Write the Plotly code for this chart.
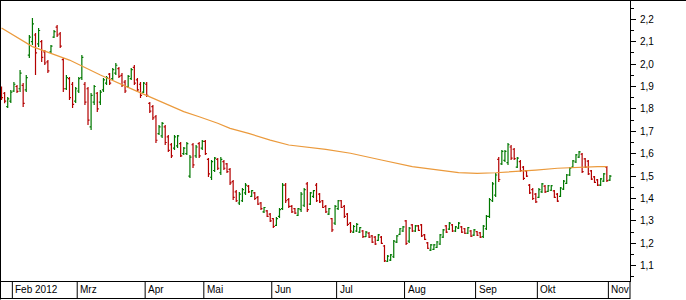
import pandas as pd
import plotly.graph_objects as go

# ---- data -----------------------------------------------------------------
holidays = ["2012-04-06", "2012-04-09", "2012-05-01"]
dates = [d.strftime("%Y-%m-%d") for d in pd.bdate_range("2012-01-26", "2012-11-01")
         if d.strftime("%Y-%m-%d") not in holidays]

open_ = [1.89, 1.87, 1.81, 1.835, 1.88, 1.90, 1.89, 1.905, 1.885, 2.04,
         2.10, 2.13, 2.09, 2.10, 2.055, 2.01, 2.055, 2.12, 2.165, 2.135,
         2.02, 1.89, 1.935, 1.91, 1.835, 1.88, 1.94, 1.91, 1.89, 1.72,
         1.83, 1.87, 1.83, 1.885, 1.915, 1.955, 1.935, 1.96, 1.98, 1.95,
         1.92, 1.90, 1.935, 1.985, 1.93, 1.91, 1.875, 1.91, 1.825, 1.81,
         1.765, 1.69, 1.68, 1.72, 1.675, 1.64, 1.625, 1.635, 1.645, 1.60,
         1.60, 1.50, 1.64, 1.59, 1.645, 1.625, 1.655, 1.575, 1.495, 1.525,
         1.575, 1.515, 1.565, 1.555, 1.53, 1.475, 1.43, 1.38, 1.39, 1.425,
         1.455, 1.41, 1.425, 1.405, 1.38, 1.34, 1.345, 1.33, 1.31, 1.28,
         1.32, 1.355, 1.46, 1.395, 1.365, 1.355, 1.325, 1.35, 1.37, 1.465,
         1.375, 1.41, 1.46, 1.42, 1.39, 1.365, 1.33, 1.31, 1.29, 1.355,
         1.39, 1.365, 1.33, 1.29, 1.25, 1.255, 1.25, 1.255, 1.23, 1.245,
         1.233, 1.228, 1.213, 1.228, 1.188, 1.12, 1.125, 1.14, 1.205, 1.24,
         1.255, 1.30, 1.21, 1.282, 1.255, 1.278, 1.282, 1.238, 1.202, 1.17,
         1.173, 1.182, 1.197, 1.228, 1.278, 1.263, 1.282, 1.255, 1.268, 1.273,
         1.265, 1.245, 1.255, 1.237, 1.252, 1.247, 1.23, 1.265, 1.32, 1.39,
         1.415, 1.575, 1.555, 1.57, 1.56, 1.63, 1.62, 1.54, 1.565, 1.54,
         1.523, 1.46, 1.44, 1.42, 1.405, 1.43, 1.455, 1.432, 1.437, 1.434,
         1.42, 1.41, 1.442, 1.468, 1.505, 1.54, 1.563, 1.585, 1.598, 1.577,
         1.567, 1.523, 1.497, 1.483, 1.46, 1.478, 1.54, 1.482]
high = [1.90, 1.875, 1.853, 1.884, 1.92, 1.907, 1.974, 1.916, 1.951, 2.13,
        2.206, 2.139, 2.161, 2.108, 2.063, 2.018, 2.085, 2.152, 2.175, 2.143,
        2.027, 1.951, 1.942, 1.92, 1.898, 1.942, 2.041, 1.92, 1.898, 1.871,
        1.907, 1.876, 1.884, 1.938, 1.947, 1.96, 1.983, 2.005, 1.987, 1.96,
        1.929, 1.951, 1.983, 1.996, 1.938, 1.92, 1.92, 1.92, 1.831, 1.817,
        1.773, 1.728, 1.742, 1.728, 1.684, 1.648, 1.684, 1.684, 1.652, 1.63,
        1.652, 1.594, 1.648, 1.639, 1.652, 1.661, 1.661, 1.581, 1.572, 1.585,
        1.581, 1.585, 1.572, 1.559, 1.536, 1.483, 1.438, 1.429, 1.447, 1.469,
        1.46, 1.438, 1.429, 1.411, 1.384, 1.362, 1.349, 1.335, 1.313, 1.317,
        1.358, 1.469, 1.469, 1.402, 1.371, 1.358, 1.358, 1.429, 1.447, 1.474,
        1.429, 1.438, 1.469, 1.425, 1.393, 1.371, 1.358, 1.313, 1.371, 1.393,
        1.393, 1.371, 1.335, 1.295, 1.282, 1.291, 1.273, 1.259, 1.255, 1.251,
        1.237, 1.233, 1.242, 1.233, 1.192, 1.148, 1.152, 1.215, 1.237, 1.268,
        1.277, 1.304, 1.273, 1.286, 1.282, 1.282, 1.286, 1.242, 1.206, 1.197,
        1.197, 1.21, 1.242, 1.264, 1.282, 1.295, 1.286, 1.277, 1.295, 1.277,
        1.268, 1.273, 1.259, 1.264, 1.255, 1.251, 1.282, 1.326, 1.402, 1.474,
        1.514, 1.585, 1.617, 1.617, 1.648, 1.639, 1.626, 1.585, 1.572, 1.545,
        1.527, 1.465, 1.447, 1.425, 1.447, 1.469, 1.46, 1.46, 1.46, 1.438,
        1.425, 1.451, 1.483, 1.509, 1.541, 1.572, 1.599, 1.612, 1.603, 1.581,
        1.572, 1.527, 1.50, 1.487, 1.492, 1.514, 1.545, 1.505]
low = [1.84, 1.825, 1.804, 1.826, 1.876, 1.871, 1.876, 1.809, 1.876, 2.027,
       2.085, 1.951, 2.076, 2.009, 1.996, 1.96, 2.05, 2.117, 2.121, 2.072,
       1.876, 1.884, 1.84, 1.804, 1.826, 1.871, 1.929, 1.817, 1.728, 1.706,
       1.817, 1.786, 1.817, 1.876, 1.907, 1.907, 1.929, 1.951, 1.938, 1.898,
       1.871, 1.893, 1.929, 1.907, 1.876, 1.849, 1.871, 1.853, 1.782, 1.751,
       1.648, 1.684, 1.67, 1.639, 1.608, 1.581, 1.617, 1.626, 1.585, 1.594,
       1.594, 1.492, 1.536, 1.581, 1.581, 1.617, 1.594, 1.496, 1.483, 1.518,
       1.527, 1.505, 1.527, 1.514, 1.46, 1.393, 1.384, 1.371, 1.384, 1.416,
       1.425, 1.407, 1.393, 1.371, 1.349, 1.335, 1.317, 1.295, 1.268, 1.277,
       1.313, 1.349, 1.38, 1.358, 1.335, 1.331, 1.322, 1.34, 1.362, 1.34,
       1.371, 1.402, 1.384, 1.38, 1.358, 1.335, 1.326, 1.251, 1.282, 1.349,
       1.358, 1.313, 1.277, 1.246, 1.246, 1.251, 1.246, 1.224, 1.228, 1.224,
       1.201, 1.192, 1.21, 1.197, 1.117, 1.117, 1.121, 1.134, 1.201, 1.237,
       1.251, 1.192, 1.201, 1.251, 1.251, 1.255, 1.228, 1.215, 1.175, 1.166,
       1.17, 1.179, 1.192, 1.224, 1.246, 1.259, 1.251, 1.251, 1.264, 1.246,
       1.242, 1.242, 1.228, 1.233, 1.233, 1.224, 1.224, 1.259, 1.313, 1.384,
       1.407, 1.474, 1.55, 1.563, 1.55, 1.572, 1.572, 1.536, 1.518, 1.483,
       1.496, 1.42, 1.393, 1.38, 1.402, 1.425, 1.425, 1.429, 1.434, 1.402,
       1.384, 1.407, 1.438, 1.465, 1.50, 1.536, 1.559, 1.581, 1.514, 1.536,
       1.505, 1.483, 1.469, 1.456, 1.456, 1.474, 1.474, 1.478]
close = [1.85, 1.835, 1.845, 1.875, 1.91, 1.878, 1.96, 1.825, 1.94, 2.12,
         2.18, 2.05, 2.15, 2.03, 2.005, 1.97, 2.08, 2.145, 2.13, 2.08,
         1.89, 1.94, 1.85, 1.82, 1.89, 1.935, 2.03, 1.83, 1.75, 1.86,
         1.90, 1.80, 1.875, 1.93, 1.94, 1.915, 1.975, 1.995, 1.945, 1.905,
         1.88, 1.945, 1.975, 1.915, 1.885, 1.86, 1.915, 1.86, 1.79, 1.76,
         1.66, 1.72, 1.735, 1.65, 1.615, 1.59, 1.675, 1.68, 1.59, 1.625,
         1.645, 1.585, 1.55, 1.63, 1.59, 1.655, 1.60, 1.51, 1.565, 1.58,
         1.535, 1.575, 1.535, 1.52, 1.47, 1.405, 1.39, 1.42, 1.44, 1.46,
         1.43, 1.435, 1.40, 1.375, 1.355, 1.36, 1.32, 1.30, 1.275, 1.31,
         1.35, 1.46, 1.39, 1.365, 1.34, 1.335, 1.355, 1.42, 1.44, 1.35,
         1.425, 1.435, 1.39, 1.385, 1.36, 1.34, 1.355, 1.26, 1.365, 1.39,
         1.36, 1.32, 1.285, 1.255, 1.275, 1.285, 1.27, 1.23, 1.25, 1.228,
         1.205, 1.197, 1.238, 1.20, 1.122, 1.143, 1.148, 1.21, 1.233, 1.265,
         1.273, 1.20, 1.268, 1.255, 1.278, 1.258, 1.233, 1.218, 1.178, 1.193,
         1.193, 1.206, 1.238, 1.26, 1.25, 1.29, 1.255, 1.273, 1.29, 1.25,
         1.245, 1.27, 1.232, 1.26, 1.236, 1.228, 1.277, 1.32, 1.395, 1.465,
         1.505, 1.485, 1.61, 1.61, 1.64, 1.58, 1.578, 1.58, 1.525, 1.49,
         1.50, 1.425, 1.40, 1.385, 1.44, 1.465, 1.43, 1.457, 1.457, 1.405,
         1.388, 1.447, 1.478, 1.505, 1.536, 1.568, 1.595, 1.608, 1.52, 1.54,
         1.51, 1.487, 1.472, 1.46, 1.488, 1.51, 1.48, 1.50]

ma_dates = ["2012-01-26", "2012-02-09", "2012-02-27", "2012-03-12", "2012-03-27",
            "2012-04-03", "2012-04-13", "2012-04-20", "2012-04-27", "2012-05-08",
            "2012-05-14", "2012-05-22", "2012-05-31", "2012-06-08", "2012-06-26",
            "2012-07-06", "2012-07-20", "2012-08-03", "2012-08-24", "2012-09-03",
            "2012-09-11", "2012-09-20", "2012-09-28", "2012-10-09", "2012-10-17",
            "2012-10-26", "2012-10-31"]
ma_values = [2.161, 2.078, 2.018, 1.951, 1.884,
             1.854, 1.817, 1.788, 1.765, 1.736,
             1.713, 1.691, 1.661, 1.639, 1.619,
             1.602, 1.572, 1.542, 1.516, 1.512,
             1.515, 1.520, 1.527, 1.535, 1.539,
             1.542, 1.542]

month_starts = ["2012-02-01", "2012-03-01", "2012-04-02", "2012-05-02", "2012-06-01",
                "2012-07-02", "2012-08-01", "2012-09-03", "2012-10-01", "2012-11-01"]
month_labels = ["Feb 2012", "Mrz", "Apr", "Mai", "Jun", "Jul", "Aug", "Sep", "Okt", "Nov"]

# ---- figure ---------------------------------------------------------------
W, H = 686, 300
ML, MR, MT, MB = 0, 56, 1, 19
PW, PH = W - ML - MR, H - MT - MB
FONT = "Liberation Sans"

fig = go.Figure()
fig.add_trace(go.Ohlc(
    x=dates, open=open_, high=high, low=low, close=close,
    increasing=dict(line=dict(color="#007800", width=1.2)),
    decreasing=dict(line=dict(color="#b40000", width=1.2)),
    tickwidth=0.5, showlegend=False, hoverinfo="skip",
))
fig.add_trace(go.Scatter(
    x=ma_dates, y=ma_values, mode="lines",
    line=dict(color="#eb9a3c", width=1.2), showlegend=False, hoverinfo="skip",
))


def px_x(p):
    return (p - ML) / PW


def px_y(p):
    return (MT + PH - p) / PH


shapes = []
idx = {d: i for i, d in enumerate(dates)}
for d in month_starts:
    xv = idx[d] - 0.5
    shapes.append(dict(type="line", xref="x", yref="paper", x0=xv, x1=xv,
                       y0=px_y(299), y1=0, line=dict(color="black", width=1)))
# outer frame pieces
shapes.append(dict(type="line", xref="paper", yref="paper", x0=px_x(0), x1=px_x(W),
                   y0=px_y(0.5), y1=px_y(0.5), line=dict(color="black", width=1)))
shapes.append(dict(type="line", xref="paper", yref="paper", x0=px_x(0.5), x1=px_x(0.5),
                   y0=px_y(0), y1=px_y(299.5), line=dict(color="black", width=1)))
shapes.append(dict(type="line", xref="paper", yref="paper", x0=px_x(0), x1=px_x(630),
                   y0=px_y(298.5), y1=px_y(298.5), line=dict(color="black", width=1)))
shapes.append(dict(type="line", xref="paper", yref="paper", x0=1, x1=1,
                   y0=px_y(299), y1=0, line=dict(color="black", width=1)))

annotations = []
for d, lab in zip(month_starts, month_labels):
    annotations.append(dict(x=idx[d] - 0.5, xref="x", y=px_y(290), yref="paper",
                            text=lab, showarrow=False, xanchor="left", yanchor="middle",
                            xshift=1, font=dict(family=FONT, size=10, color="black")))

fig.update_layout(
    width=W, height=H, margin=dict(l=ML, r=MR, t=MT, b=MB, pad=0),
    paper_bgcolor="white", plot_bgcolor="white",
    separators=",.",
    shapes=shapes, annotations=annotations,
    xaxis=dict(type="category", categoryorder="array", categoryarray=dates,
               range=[-0.5, 203.5], rangeslider=dict(visible=False),
               showticklabels=False, ticks="", showgrid=False, zeroline=False,
               showline=True, linecolor="black", linewidth=1),
    yaxis=dict(side="right", range=[1.0318, 2.2817], dtick=0.1, tick0=1.0,
               tickformat=".1f", ticks="outside", ticklen=5, tickcolor="black",
               minor=dict(ticks="outside", ticklen=3, dtick=0.05, tick0=1.0, tickcolor="black"),
               showgrid=False, zeroline=False, showline=True, linecolor="black",
               linewidth=1, ticklabelstandoff=2,
               tickfont=dict(family=FONT, size=10, color="black")),
)

fig.write_html("out.html")
